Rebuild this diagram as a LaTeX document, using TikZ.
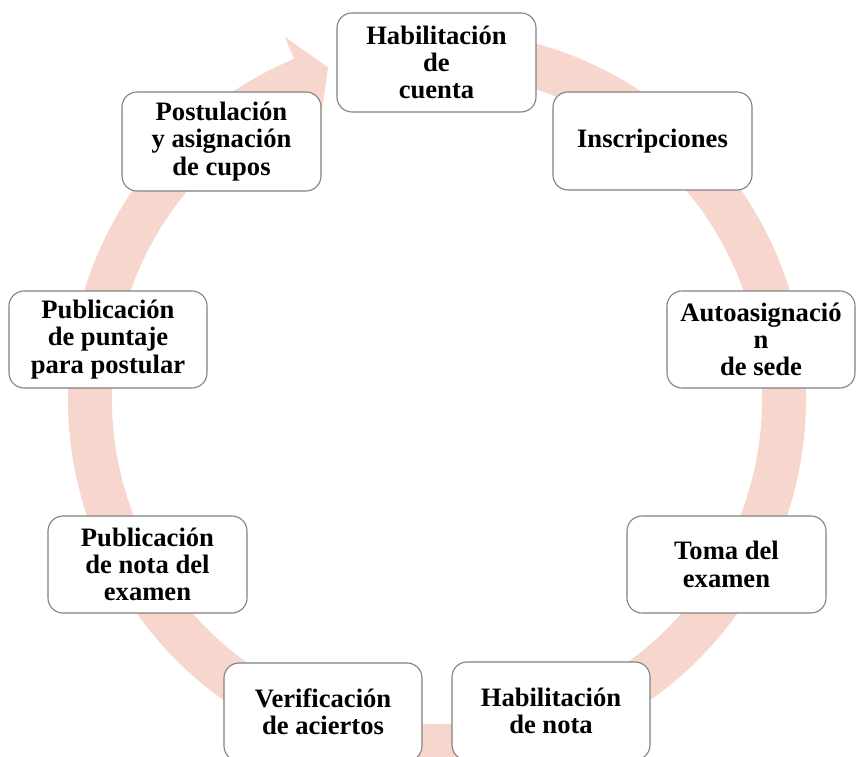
\documentclass[tikz,border=0pt]{standalone}
\usepackage{fontspec}
\setmainfont{Liberation Serif}
\definecolor{ringc}{RGB}{247,215,205}
\definecolor{boxline}{RGB}{128,128,128}
\begin{document}
\begin{tikzpicture}[x=1pt,y=1pt,
  stage/.style={draw=boxline, line width=1.1pt, fill=white, rounded corners=15pt,
    rectangle, align=center, inner sep=0pt,
    font=\fontsize{26.6}{27.3}\selectfont\bfseries},
  ringfill/.style={fill=ringc}]
\useasboundingbox (0,0) rectangle (856,757);
\clip (0,0) rectangle (856,757);
% circular arrow
\begin{scope}[shift={(437,358)}]
\fill[ringfill] (80:369) arc[start angle=80, end angle=-247.2, radius=369]
  -- (-247.2:393) -- (-251.8:349) -- (-247.2:301) -- (-247.2:325)
  arc[start angle=-247.2, end angle=80, radius=325] -- cycle;
\end{scope}
% stages
\node[stage, minimum width=199, minimum height=99] (hab) at (436.5,694.5) {Habilitación\\de\\cuenta};
\node[stage, minimum width=199, minimum height=98] (ins) at (652.5,616) {Inscripciones};
\node[stage, minimum width=188, minimum height=97] (auto) at (761,417.5) {Autoasignació\\n\\de sede};
\node[stage, minimum width=199, minimum height=97] (toma) at (726.5,192.5) {Toma del\\examen};
\node[stage, minimum width=198, minimum height=98] (habn) at (551,46) {Habilitación\\de nota};
\node[stage, minimum width=198, minimum height=98] (verif) at (323,45) {Verificación\\de aciertos};
\node[stage, minimum width=199, minimum height=97] (pubn) at (147.5,192.5) {Publicación\\de nota del\\examen};
\node[stage, minimum width=198, minimum height=97] (pubp) at (108,417.5) {Publicación\\de puntaje\\para postular};
\node[stage, minimum width=199, minimum height=99] (post) at (221.5,615.5) {Postulación\\y asignación\\de cupos};
\end{tikzpicture}
\end{document}
